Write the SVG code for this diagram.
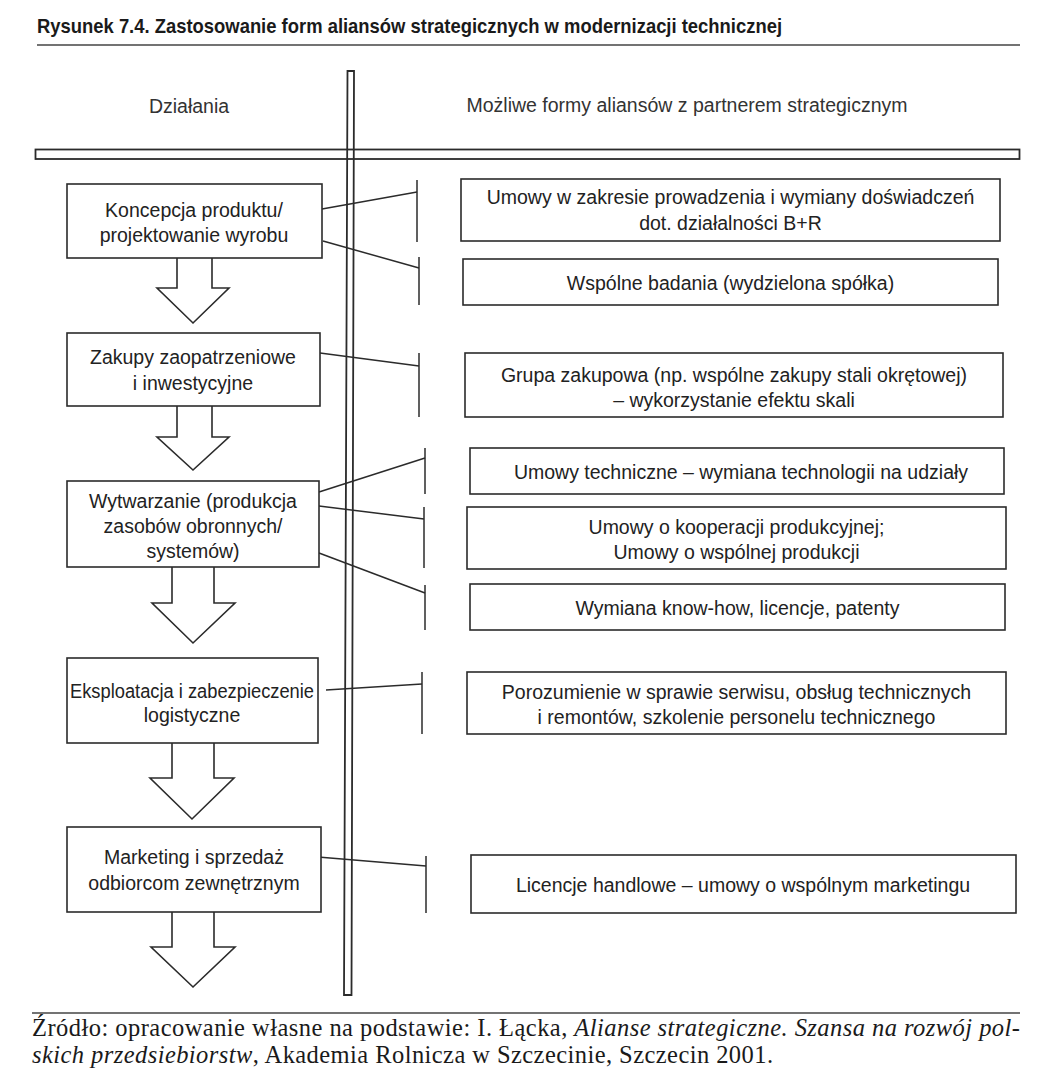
<svg xmlns="http://www.w3.org/2000/svg" width="1039" height="1080" viewBox="0 0 1039 1080">
<style>
.bg{fill:#fff}
.box{fill:#fff;stroke:#2b2b2b;stroke-width:1.6}
.arr{fill:#fff;stroke:#2b2b2b;stroke-width:1.6;stroke-linejoin:miter}
.bar{fill:none;stroke:#2b2b2b;stroke-width:1.8}
.rule{stroke:#444;stroke-width:1.3}
.con{stroke:#2b2b2b;stroke-width:1.5;fill:none}
.t{font-family:"Liberation Sans",Arial,Helvetica,sans-serif;font-size:19.5px;fill:#222;text-anchor:middle}
.h{font-family:"Liberation Sans",Arial,Helvetica,sans-serif;font-size:19.5px;fill:#333;text-anchor:middle}
.title{font-family:"Liberation Sans",Arial,Helvetica,sans-serif;font-size:20.5px;font-weight:bold;fill:#1a1a1a}
.src{font-family:"Liberation Serif","Times New Roman",serif;font-size:24.5px;fill:#1a1a1a}
.it{font-style:italic}
</style>
<rect class="bg" x="0" y="0" width="1039" height="1080"/>

<g id="title">
<text class="title" x="37" y="33" textLength="745" lengthAdjust="spacingAndGlyphs">Rysunek 7.4. Zastosowanie form aliansów strategicznych w modernizacji technicznej</text>
<line class="rule" x1="37" y1="45" x2="1020" y2="45"/>
</g>

<g id="frame">
<rect class="bar" x="35.5" y="149.5" width="984" height="9.5"/>
<polygon class="bar" points="347.5,71 354,71 351.5,995 344,995"/>
</g>

<g id="headers">
<text class="h" x="189" y="113">Działania</text>
<text class="h" x="687" y="112">Możliwe formy aliansów z partnerem strategicznym</text>
</g>

<g id="connectors">
<line class="con" x1="322" y1="209" x2="417" y2="192"/>
<line class="con" x1="417" y1="180" x2="417" y2="242"/>
<line class="con" x1="323" y1="241" x2="419" y2="268"/>
<line class="con" x1="419" y1="257" x2="419" y2="305"/>
<line class="con" x1="320" y1="353" x2="419" y2="366"/>
<line class="con" x1="419" y1="353" x2="419" y2="417"/>
<line class="con" x1="319" y1="492" x2="425" y2="458"/>
<line class="con" x1="425" y1="448" x2="425" y2="494"/>
<line class="con" x1="319" y1="506" x2="424" y2="519"/>
<line class="con" x1="424" y1="507" x2="424" y2="568"/>
<line class="con" x1="319" y1="553" x2="425" y2="593"/>
<line class="con" x1="425" y1="585" x2="425" y2="630"/>
<line class="con" x1="326" y1="690" x2="422" y2="684"/>
<line class="con" x1="422" y1="672" x2="422" y2="734"/>
<line class="con" x1="318" y1="857" x2="426" y2="866"/>
<line class="con" x1="426" y1="856" x2="426" y2="913"/>
</g>

<g id="arrows">
<polyline class="arr" points="177,258 177,288 157,288 193,323 229,288 212,288 212,258"/>
<polyline class="arr" points="177,406 177,437 157,437 193,470 229,437 212,437 212,406"/>
<polyline class="arr" points="172,567 172,603 152,603 193,643 235,603 214,603 214,567"/>
<polyline class="arr" points="172,743 172,778 150,778 192,819 234,778 214,778 214,743"/>
<polyline class="arr" points="172,912 172,947 151,947 193,987 235,947 214,947 214,912"/>
</g>

<g id="a1">
<rect class="box" x="67" y="184" width="255" height="74"/>
<text class="t" x="194" y="217">Koncepcja produktu/</text>
<text class="t" x="194" y="242">projektowanie wyrobu</text>
</g>
<g id="a2">
<rect class="box" x="67" y="333" width="253" height="73"/>
<text class="t" x="193" y="364">Zakupy zaopatrzeniowe</text>
<text class="t" x="193" y="390">i inwestycyjne</text>
</g>
<g id="a3">
<rect class="box" x="67" y="481" width="252" height="86"/>
<text class="t" x="193" y="508">Wytwarzanie (produkcja</text>
<text class="t" x="193" y="533">zasobów obronnych/</text>
<text class="t" x="193" y="558">systemów)</text>
</g>
<g id="a4">
<rect class="box" x="67" y="658" width="251" height="85"/>
<text class="t" x="192" y="698" textLength="244" lengthAdjust="spacingAndGlyphs">Eksploatacja i zabezpieczenie</text>
<text class="t" x="192" y="722">logistyczne</text>
</g>
<g id="a5">
<rect class="box" x="67" y="827" width="254" height="85"/>
<text class="t" x="194" y="864">Marketing i sprzedaż</text>
<text class="t" x="194" y="890">odbiorcom zewnętrznym</text>
</g>

<g id="f1">
<rect class="box" x="461" y="179" width="539" height="62"/>
<text class="t" x="730.5" y="204">Umowy w zakresie prowadzenia i wymiany doświadczeń</text>
<text class="t" x="730.5" y="230">dot. działalności B+R</text>
</g>
<g id="f2">
<rect class="box" x="463" y="259" width="535" height="46"/>
<text class="t" x="730.5" y="290">Wspólne badania (wydzielona spółka)</text>
</g>
<g id="f3">
<rect class="box" x="465" y="353" width="538" height="64"/>
<text class="t" x="734" y="382">Grupa zakupowa (np. wspólne zakupy stali okrętowej)</text>
<text class="t" x="734" y="407">– wykorzystanie efektu skali</text>
</g>
<g id="f4">
<rect class="box" x="470" y="448" width="534" height="46"/>
<text class="t" x="741" y="479">Umowy techniczne – wymiana technologii na udziały</text>
</g>
<g id="f5">
<rect class="box" x="467" y="507" width="539" height="62"/>
<text class="t" x="736.5" y="534">Umowy o kooperacji produkcyjnej;</text>
<text class="t" x="736.5" y="559">Umowy o wspólnej produkcji</text>
</g>
<g id="f6">
<rect class="box" x="470" y="584" width="535" height="46"/>
<text class="t" x="737.5" y="615">Wymiana know-how, licencje, patenty</text>
</g>
<g id="f7">
<rect class="box" x="467" y="672" width="539" height="62"/>
<text class="t" x="736.5" y="699">Porozumienie w sprawie serwisu, obsług technicznych</text>
<text class="t" x="736.5" y="724">i remontów, szkolenie personelu technicznego</text>
</g>
<g id="f8">
<rect class="box" x="471" y="855" width="545" height="58"/>
<text class="t" x="743" y="892">Licencje handlowe – umowy o wspólnym marketingu</text>
</g>

<g id="source">
<line class="rule" x1="32" y1="1013" x2="1020" y2="1013"/>
<text class="src" x="32" y="1036" textLength="988" lengthAdjust="spacing">Źródło: opracowanie własne na podstawie: I. Łącka, <tspan class="it">Alianse strategiczne. Szansa na rozwój pol-</tspan></text>
<text class="src" x="32" y="1063" textLength="741" lengthAdjust="spacing"><tspan class="it">skich przedsiebiorstw</tspan>, Akademia Rolnicza w Szczecinie, Szczecin 2001.</text>
</g>
</svg>
